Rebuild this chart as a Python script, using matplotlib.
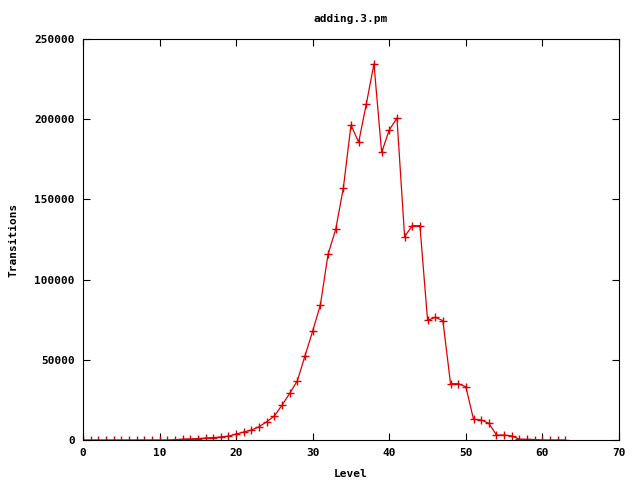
import matplotlib
matplotlib.use("Agg")
import matplotlib.pyplot as plt

level = list(range(0, 64))
transitions = [
    0, 0, 0, 0, 0, 0, 0, 0, 0, 0,
    0, 0, 200, 500, 700, 900, 1200, 1500, 1900, 2400,
    3700, 5000, 6200, 8300, 11400, 15000, 21800, 29100, 37000, 52600,
    68000, 84200, 115700, 131300, 157100, 196400, 185600, 209500, 234500, 179300,
    193300, 200700, 126800, 133600, 133600, 74600, 76500, 74400, 35100, 35100,
    33200, 12900, 12500, 10400, 3100, 3100, 2500, 500, 400, 300,
    0, 0, 0, 0,
]
xticks = [0, 10, 20, 30, 40, 50, 60, 70]
yticks = [0, 50000, 100000, 150000, 200000, 250000]

plt.rcParams['font.family'] = ['DejaVu Sans Mono']
plt.rcParams['font.weight'] = 'bold'
plt.rcParams['font.size'] = 8

fig = plt.figure(figsize=(6.4, 4.8), dpi=100)
ax = fig.add_axes([83/640, 1-440/480, (619-83)/640, (440-39)/480])
ax.plot(level, transitions, color='#dd0000', lw=0.9, marker='+', ms=5.5, mew=1.0)
ax.set_xlim(0, 70)
ax.set_ylim(0, 250000)
ax.set_xticks(xticks)
ax.set_yticks(yticks)
ax.set_xticklabels([str(v) for v in xticks])
ax.set_yticklabels([str(v) for v in yticks])
ax.tick_params(direction='in', length=5, top=True, right=True, width=0.8, pad=6)
for s in ax.spines.values():
    s.set_linewidth(0.8)
ax.set_title('adding.3.pm', fontsize=8, fontweight='bold', pad=12)
ax.set_xlabel('Level', fontweight='bold', labelpad=8)
ax.set_ylabel('Transitions', fontweight='bold', labelpad=11)
fig.savefig('out.png', dpi=100)
